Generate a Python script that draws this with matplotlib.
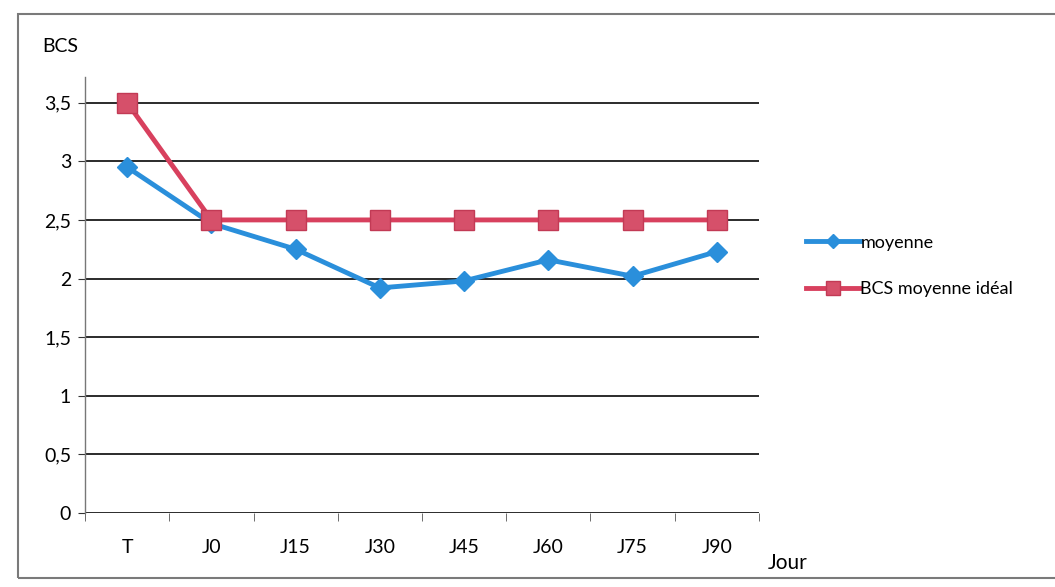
import matplotlib
matplotlib.use("Agg")
import matplotlib.pyplot as plt
from matplotlib.patches import Rectangle

categories = ["T", "J0", "J15", "J30", "J45", "J60", "J75", "J90"]
moyenne = [2.95, 2.47, 2.25, 1.92, 1.98, 2.16, 2.02, 2.23]
ideal = [3.5, 2.5, 2.5, 2.5, 2.5, 2.5, 2.5, 2.5]
yticks = [0, 0.5, 1, 1.5, 2, 2.5, 3, 3.5]
ytick_labels = ["0", "0,5", "1", "1,5", "2", "2,5", "3", "3,5"]

plt.rcParams['font.family'] = ['Lato', 'DejaVu Sans']

fig = plt.figure(figsize=(10.55, 5.87), dpi=100)
fig.patch.set_facecolor("white")
# chart border
fig.add_artist(Rectangle((18/1055, 1-578/587), 1.2, (578-14)/587,
                         transform=fig.transFigure, fill=False,
                         edgecolor="#7a7a7a", linewidth=1.5))

ax = fig.add_axes([0.0806, 0.126, 0.7194-0.0806, 0.869-0.126])
x = list(range(len(categories)))

blue = "#2A8FDB"
red = "#D8405E"

ax.plot(x, moyenne, color=blue, linewidth=3.5, marker="D", markersize=10,
        markerfacecolor=blue, markeredgecolor=blue, label="moyenne", zorder=3)
ax.plot(x, ideal, color=red, linewidth=3.5, marker="s", markersize=14,
        markerfacecolor="#D6506A", markeredgecolor="#C23A55", label="BCS moyenne idéal", zorder=4)

ax.set_xlim(-0.5, len(categories) - 0.5)
ax.set_ylim(0, 3.72)
ax.set_yticks(yticks)
ax.set_yticklabels(ytick_labels, fontsize=14)
ax.set_xticks(x)
ax.set_xticklabels(categories, fontsize=14)
ax.set_xticks([i - 0.5 for i in range(len(categories) + 1)], minor=True)
ax.tick_params(axis="x", which="major", length=0, pad=19)
ax.tick_params(axis="x", which="minor", length=6, color="#555555", direction="out")
ax.tick_params(axis="y", length=5, color="#333333", pad=5)

for yv in yticks:
    ax.axhline(yv, color="#2b2b2b", linewidth=1.4, zorder=1)

for s in ["top", "right"]:
    ax.spines[s].set_visible(False)
ax.spines["bottom"].set_visible(False)
ax.spines["left"].set_color("#777777")
ax.spines["left"].set_linewidth(1.0)

fig.text(42/1055, 1-47/587, "BCS", fontsize=14, va="center", ha="left")
fig.text(768/1055, 1-563/587, "Jour", fontsize=15, va="center", ha="left")

leg = ax.legend(loc="center left", bbox_to_anchor=(790/1055, 1-266/587),
                bbox_transform=fig.transFigure, frameon=False, fontsize=13,
                handlelength=3.0, handletextpad=0.0, labelspacing=1.7,
                markerscale=0.75)

fig.savefig("out.png", dpi=100, facecolor="white")
